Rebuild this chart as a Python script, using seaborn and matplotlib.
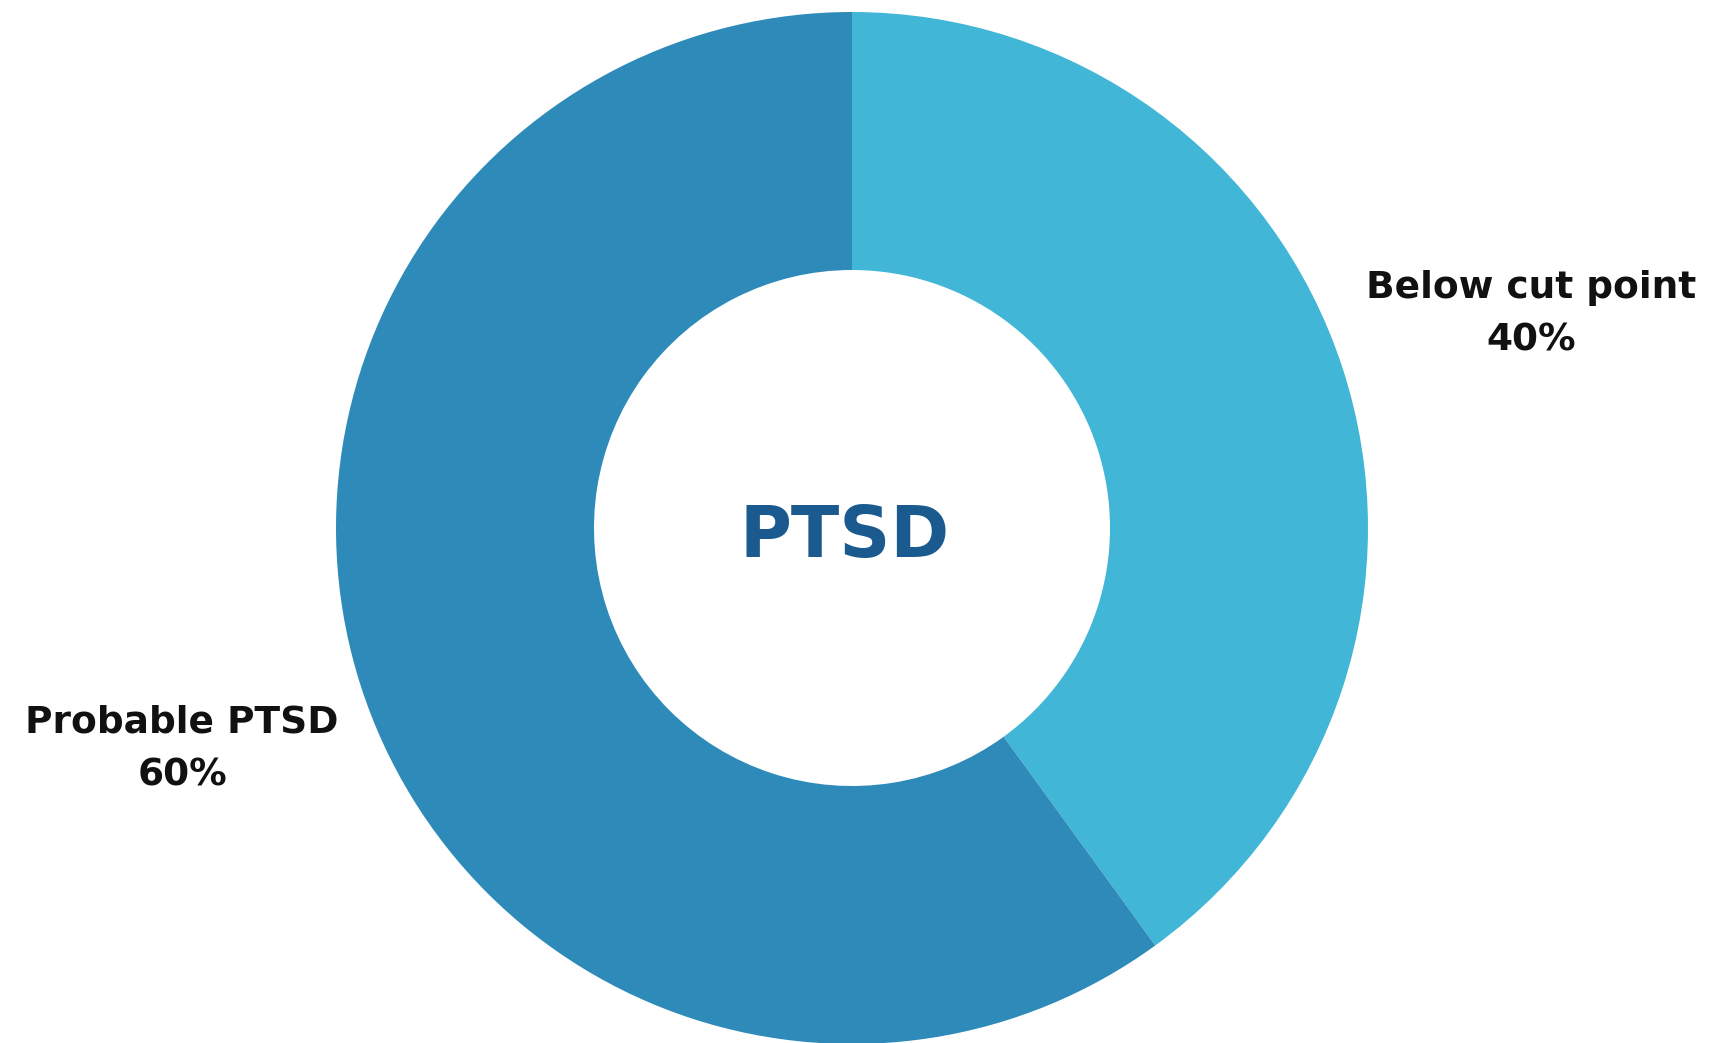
import matplotlib
matplotlib.use("Agg")
import matplotlib.pyplot as plt
import seaborn as sns

categories = ["Below cut point", "Probable PTSD"]
values = [40, 60]
colors = ["#42B6D6", "#2E8BB9"]
center_label = "PTSD"

sns.set_theme(style="white")
plt.rcParams['font.family'] = ['DejaVu Sans']

W, H = 1710, 1043
fig = plt.figure(figsize=(W / 100, H / 100), dpi=100)
ax = fig.add_axes([0, 0, 1, 1])

cx, cy, R = 852, 515, 516
ax.pie(values, colors=colors, startangle=90, counterclock=False,
       center=(cx, cy), radius=R, wedgeprops=dict(width=R * 0.5, linewidth=0),
       frame=True)
ax.set_xlim(0, W)
ax.set_ylim(0, H)
ax.set_aspect('equal')
ax.axis('off')

label_pos = [(1531, 729), (182, 294)]
for cat, v, (x, y) in zip(categories, values, label_pos):
    ax.text(x, y, f"{cat}\n{v}%", ha='center', va='center', fontsize=27,
            fontweight='bold', color='#111111', linespacing=1.6)

ax.text(845, 505, center_label, ha='center', va='center', fontsize=51,
        fontweight='bold', color='#1B5A8E')

fig.savefig("out.png", dpi=100)
